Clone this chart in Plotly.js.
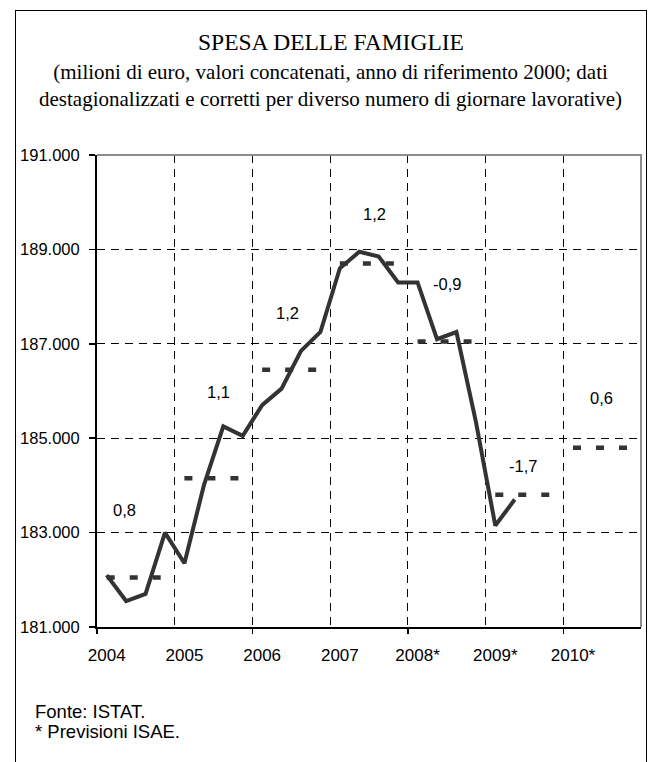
<!DOCTYPE html>
<html><head><meta charset="utf-8">
<script src="https://cdn.plot.ly/plotly-3.0.1.min.js"></script>
<style>
html,body{margin:0;padding:0;background:#fff;}
#wrap{position:relative;width:654px;height:762px;overflow:hidden;}
#chart{position:absolute;left:0;top:0;width:654px;height:762px;}
#frame{position:absolute;left:15px;top:10px;width:630px;height:800px;border:1.5px solid #000;pointer-events:none;}
</style></head><body>
<div id="wrap"><div id="chart"></div><div id="frame"></div></div>
<script>
// ---- data ----
const years = ['2004','2005','2006','2007','2008*','2009*','2010*'];
// quarterly household spending, 2004Q1 .. 2009Q2 (million euro)
const quarterlySpending = [
  182100,181550,181700,183000,
  182350,184000,185250,185050,
  185700,186050,186850,187250,
  188600,188950,188850,188300,
  188300,187100,187250,185350,
  183150,183700
];
// annual averages (2008-2010 forecasts)
const annualAverage = [182050,184150,186450,188700,187050,183800,184800];
// annual growth rates (%)
const growthLabels = ['0,8','1,1','1,2','1,2','-0,9','-1,7','0,6'];
// label placement: [quarter offset within year, y value]
const labelPlacement = [[0.93,183470],[1.73,185970],[1.30,187660],[1.76,189750],[1.49,188270],[1.45,184420],[1.47,185850]];
const yTicks = [181000,183000,185000,187000,189000,191000];

// ---- traces ----
const qx = quarterlySpending.map((_, i) => i);
const avgX = [], avgY = [];
annualAverage.forEach((v, k) => { avgX.push(4*k, 4*k+3, null); avgY.push(v, v, null); });

const darkLine = '#333333';
const data = [
  {x: qx, y: quarterlySpending, type:'scatter', mode:'lines',
   line:{color:darkLine, width:4}, hoverinfo:'skip', xaxis:'x', yaxis:'y'},
  {x: avgX, y: avgY, type:'scatter', mode:'lines', connectgaps:false,
   line:{color:darkLine, width:4.5, dash:'8px,15px'}, hoverinfo:'skip', xaxis:'x2', yaxis:'y'}
];

const nQ = years.length * 4;
const boundaries = [];
for (let k = 0; k <= years.length; k++) boundaries.push(4*k - 0.5);
const majorB = boundaries.filter((_, k) => k % 2 === 0 && k < years.length);
const minorB = boundaries.filter((_, k) => k % 2 === 1);

const gridDash = '8px,6px';
const annotations = growthLabels.map((t, k) => ({
  text: t, xref:'x', yref:'y', x: 4*k + labelPlacement[k][0], y: labelPlacement[k][1],
  showarrow:false, xanchor:'center', yanchor:'middle',
  font:{family:'"Liberation Sans", Arial, sans-serif', size:16.5, color:'#000'}
}));
annotations.push({
  text:'(milioni di euro, valori concatenati, anno di riferimento 2000; dati<br>destagionalizzati e corretti per diverso numero di giornare lavorative)',
  xref:'paper', yref:'paper', x:0.430, y:1.147, showarrow:false, xanchor:'center', yanchor:'middle', align:'center',
  font:{family:'"Liberation Serif", "Times New Roman", serif', size:21, color:'#000'}
});
annotations.push({
  text:'Fonte: ISTAT.', xref:'paper', yref:'paper', x:-0.117, y:-0.179, showarrow:false, xanchor:'left', yanchor:'middle',
  font:{family:'"Liberation Sans", Arial, sans-serif', size:18.5, color:'#000'}
});
annotations.push({
  text:'* Previsioni ISAE.', xref:'paper', yref:'paper', x:-0.117, y:-0.2214, showarrow:false, xanchor:'left', yanchor:'middle',
  font:{family:'"Liberation Sans", Arial, sans-serif', size:18.5, color:'#000'}
});

const layout = {
  width:654, height:762,
  margin:{l:97, r:13, t:155, b:135, pad:0},
  paper_bgcolor:'rgba(0,0,0,0)', plot_bgcolor:'#fff',
  separators:',.',
  showlegend:false,
  font:{family:'"Liberation Sans", Arial, sans-serif', color:'#000'},
  title:{text:'SPESA DELLE FAMIGLIE',
    font:{family:'"Liberation Serif", "Times New Roman", serif', size:23.5, color:'#000'},
    xref:'container', x:331/654, xanchor:'center', yref:'container', y:1-41.5/762, yanchor:'middle'},
  xaxis:{range:[-0.5, nQ-0.5], tickmode:'array', tickvals: years.map((_, k) => 4*k), ticktext: years,
    ticks:'', showgrid:false, zeroline:false, showline:true, linecolor:'#000', linewidth:2,
    tickfont:{size:17, color:'#000'}, ticklabelstandoff:12, fixedrange:true},
  xaxis2:{overlaying:'x', anchor:'y', side:'bottom', range:[-0.5, nQ-0.5],
    tickmode:'array', tickvals: majorB, showticklabels:false,
    ticks:'outside', ticklen:6, tickwidth:1.5, tickcolor:'#000',
    showgrid:true, gridcolor:'#000', gridwidth:1, griddash:gridDash,
    minor:{tickmode:'array', tickvals: minorB, ticks:'', showgrid:true, gridcolor:'#000', gridwidth:1, griddash:gridDash},
    showline:false, zeroline:false, fixedrange:true},
  yaxis:{range:[181000,191000], tickmode:'array', tickvals:yTicks, tickformat:',d',
    ticks:'outside', ticklen:6, tickwidth:1.5, tickcolor:'#000',
    showgrid:true, gridcolor:'#000', gridwidth:1, griddash:gridDash,
    showline:true, linecolor:'#000', linewidth:2, zeroline:false,
    tickfont:{size:16.5, color:'#000'}, ticklabelstandoff:6, fixedrange:true},
  shapes:[{type:'path', xref:'paper', yref:'paper', path:'M0,1 L1,1 L1,0', layer:'above',
    line:{color:'#8c8c8c', width:2}}],
  annotations: annotations
};

Plotly.newPlot('chart', data, layout, {staticPlot:true, displayModeBar:false});
</script>
</body></html>
